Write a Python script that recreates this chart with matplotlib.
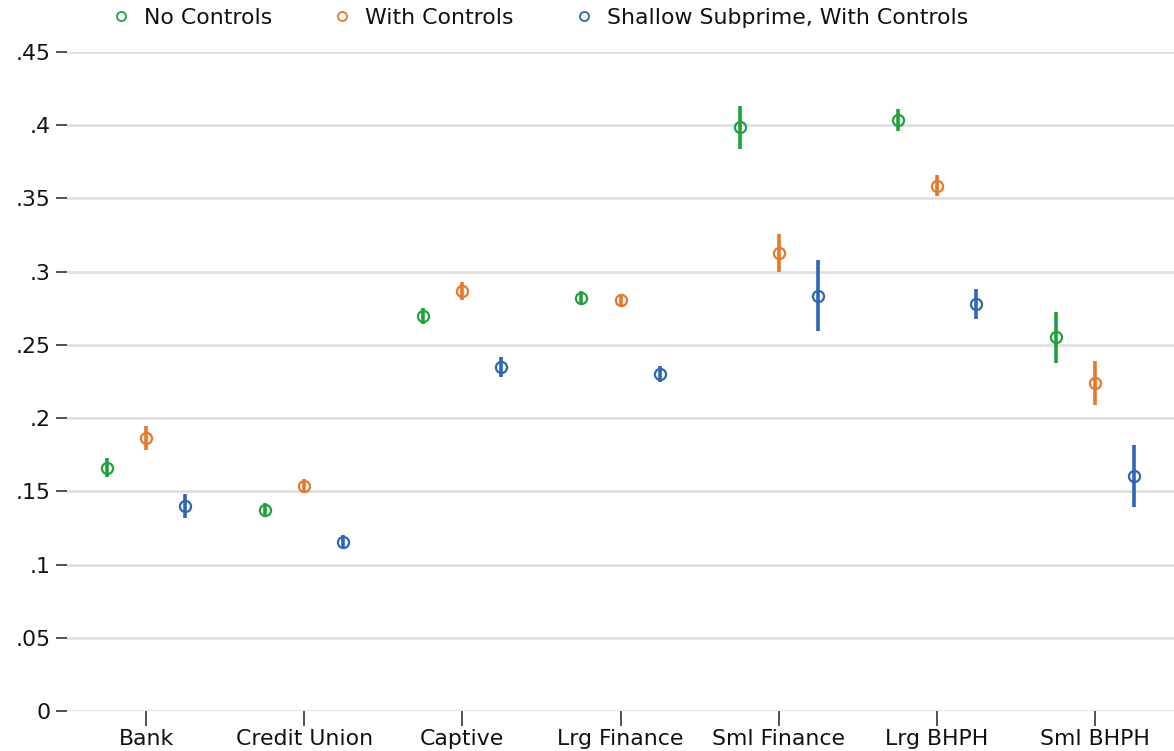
import numpy as np
import matplotlib
matplotlib.use("Agg")
import matplotlib.pyplot as plt
from matplotlib.ticker import FuncFormatter

# Categories and estimates
categories = ["Bank", "Credit Union", "Captive", "Lrg Finance", "Sml Finance", "Lrg BHPH", "Sml BHPH"]
series_names = ["No Controls", "With Controls", "Shallow Subprime, With Controls"]

no_controls = [0.166, 0.1373, 0.2697, 0.282, 0.3985, 0.4038, 0.2551]
no_controls_ci = [0.0065, 0.005, 0.0055, 0.0045, 0.0144, 0.0075, 0.0172]

with_controls = [0.1864, 0.1537, 0.2868, 0.2807, 0.3128, 0.3587, 0.2242]
with_controls_ci = [0.0085, 0.005, 0.006, 0.004, 0.0128, 0.007, 0.0151]

shallow = [0.140, 0.1154, 0.235, 0.2301, 0.2836, 0.2781, 0.1605]
shallow_ci = [0.0085, 0.0048, 0.007, 0.0055, 0.0244, 0.0102, 0.021]

colors = ["#22a03c", "#e5782b", "#2f65b5"]
offsets = [-0.247, 0.0, 0.247]

fig = plt.figure(figsize=(11.74, 7.51), dpi=100)
ax = fig.add_axes([67 / 1174, 40 / 751, 1 - 67 / 1174, 659 / 751])

x = np.arange(len(categories))
vals = [no_controls, with_controls, shallow]
cis = [no_controls_ci, with_controls_ci, shallow_ci]

for name, v, ci, c, off in zip(series_names, vals, cis, colors, offsets):
    ax.errorbar(x + off, v, yerr=ci, fmt="none", ecolor=c, elinewidth=2.6, capsize=0, zorder=3)
    ax.plot(x + off, v, "o", mfc="none", mec=c, mew=1.6, ms=8, ls="none", zorder=4, label=name)

ax.set_xlim(-0.5, len(categories) - 0.5)
ax.set_ylim(0, 0.45)
ax.set_yticks(np.arange(0, 0.451, 0.05))
ax.yaxis.set_major_formatter(FuncFormatter(lambda v, p: "0" if abs(v) < 1e-9 else ("%g" % round(v, 2)).lstrip("0")))
ax.set_xticks(x)
ax.set_xticklabels(categories)

ax.grid(axis="y", color="#e0e0e0", lw=2)
ax.set_axisbelow(True)
for s in ax.spines.values():
    s.set_visible(False)
ax.tick_params(axis="y", length=8, width=1.2, color="#333333", labelsize=15.8, pad=4, labelcolor="#111111")
ax.tick_params(axis="x", length=11, width=1.2, color="#333333", labelsize=15.8, pad=2, labelcolor="#111111")

handles = [plt.Line2D([], [], marker="o", ls="none", mfc="none", mec=c, mew=1.3, ms=6.5) for c in colors]
fig.legend(handles, series_names, loc="center left", bbox_to_anchor=(88 / 1174, 1 - 18 / 751),
           ncol=3, frameon=False, fontsize=15.8, handletextpad=0.45, columnspacing=2.6, handlelength=1.2,
           labelcolor="#111111")

fig.savefig("out.png", dpi=100)
